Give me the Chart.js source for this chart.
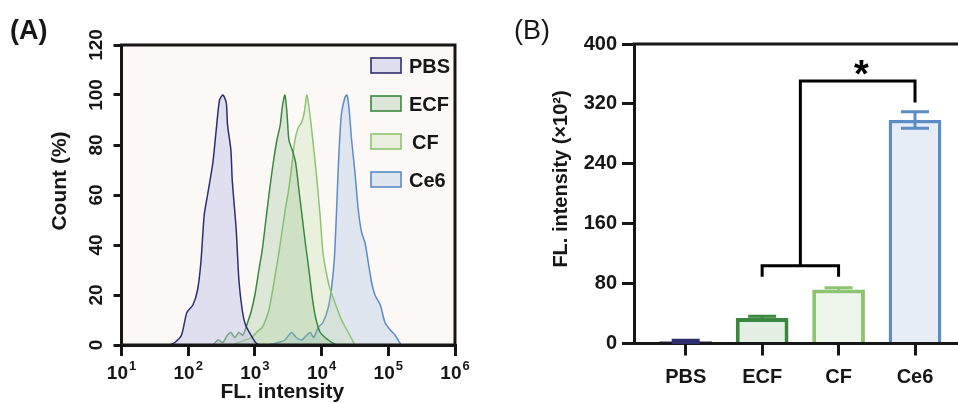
<!DOCTYPE html>
<html>
<head>
<meta charset="utf-8">
<title>FL intensity</title>
<script src="https://cdn.jsdelivr.net/npm/chart.js@4.4.1/dist/chart.umd.min.js"></script>
<style>
  body { margin: 0; background: #fff; }
  #wrap { position: relative; width: 958px; height: 403px; overflow: hidden; }
  canvas { position: absolute; top: 0; }
  #histCanvas { left: 0; }
  #barCanvas { left: 480px; }
</style>
</head>
<body>
<div id="wrap">
  <canvas id="histCanvas" width="480" height="403"></canvas>
  <canvas id="barCanvas" width="478" height="403"></canvas>
</div>
<script>
// (A) flow cytometry histograms: x = log10(FL intensity), y = count (%)
const pbsLog   = [1.72, 1.80, 1.90, 1.98, 2.07, 2.14, 2.19, 2.24, 2.29, 2.37, 2.42, 2.47, 2.52, 2.57, 2.59, 2.64, 2.66, 2.72, 2.76, 2.81, 2.86, 2.94, 3.01, 3.06];
const pbsCount = [0, 1, 4, 13, 16, 22, 33, 52, 60, 73, 86, 98, 100, 97, 88, 78, 66, 46, 26, 14, 8, 4, 1, 0];

const ecfLog   = [2.37, 2.45, 2.52, 2.59, 2.64, 2.70, 2.76, 2.82, 2.89, 2.94, 3.00, 3.06, 3.11, 3.16, 3.21, 3.27, 3.33, 3.38, 3.41, 3.45, 3.48, 3.51, 3.56, 3.61, 3.66, 3.71, 3.76, 3.81, 3.86, 3.91, 3.98, 4.10, 4.22];
const ecfCount = [0, 2, 1, 4, 5, 3, 5, 4, 9, 13, 20, 30, 38, 49, 60, 72, 82, 88, 95, 100, 93, 82, 78, 73, 62, 51, 40, 30, 19, 11, 5, 2, 0];

const cfLog    = [2.66, 2.75, 2.85, 2.95, 3.06, 3.11, 3.16, 3.21, 3.26, 3.31, 3.36, 3.41, 3.46, 3.50, 3.55, 3.60, 3.65, 3.70, 3.74, 3.78, 3.83, 3.88, 3.93, 3.98, 4.02, 4.07, 4.12, 4.20, 4.30, 4.40, 4.50];
const cfCount  = [0, 1, 2, 3, 6, 7, 10, 14, 21, 29, 37, 46, 55, 61, 71, 82, 87, 89, 93, 100, 91, 79, 66, 51, 37, 29, 23, 17, 10, 5, 0];

const ce6Log   = [3.20, 3.35, 3.45, 3.55, 3.62, 3.70, 3.78, 3.83, 3.88, 3.95, 4.02, 4.10, 4.15, 4.19, 4.22, 4.25, 4.27, 4.30, 4.35, 4.38, 4.41, 4.45, 4.50, 4.55, 4.60, 4.65, 4.70, 4.75, 4.80, 4.88, 4.95, 5.03, 5.10, 5.17, 5.19];
const ce6Count = [0, 1, 2, 5, 3, 2, 4, 5, 3, 7, 9, 15, 23, 34, 51, 71, 82, 93, 99, 100, 95, 82, 69, 54, 45, 41, 33, 25, 20, 16, 9, 6, 4, 1, 0];

const countTicks  = [0, 20, 40, 60, 80, 100, 120];
const decadeTicks = [1, 2, 3, 4, 5, 6];

// (B) mean FL intensity (x10^2) with SD
const groups = ['PBS', 'ECF', 'CF', 'Ce6'];
const meanFL = [3, 34, 72, 298.5];
const sdFL   = [1.5, 2.5, 2.5, 11];

const FONT = '"Liberation Sans", Arial, Helvetica, sans-serif';
const INK = '#161616';
const lineColors = ['#2e2d6e', '#3a873e', '#8dc472', '#5b8cc6'];
const fillColors = ['rgba(190,194,230,0.45)', 'rgba(110,175,110,0.22)', 'rgba(175,215,150,0.25)', 'rgba(160,190,225,0.30)'];
const barFill    = ['#2e3275', '#e2efe2', '#eef5ea', '#e7edf7'];

const toPoints = (xs, ys) => xs.map((v, i) => ({ x: v, y: ys[i] }));

const histSeries = [
  { label: 'PBS', xs: pbsLog, ys: pbsCount },
  { label: 'ECF', xs: ecfLog, ys: ecfCount },
  { label: 'CF',  xs: cfLog,  ys: cfCount },
  { label: 'Ce6', xs: ce6Log, ys: ce6Count }
];

const axisLine = (tickLength) => ({
  offset: false,
  grid: { offset: false, drawOnChartArea: false, drawTicks: true, tickLength: tickLength, lineWidth: 3, color: INK },
  border: { display: true, width: 3, color: INK }
});

// frame, 10^n labels, rotated count labels, legend and titles for panel A
const histDecor = {
  id: 'histDecor',
  beforeDraw(chart) {
    const { ctx, chartArea: a } = chart;
    ctx.save();
    ctx.fillStyle = '#fcf8f6';
    ctx.fillRect(a.left, a.top, a.right - a.left, a.bottom - a.top);
    ctx.restore();
  },
  afterDraw(chart) {
    const { ctx, chartArea: a, scales: { x, y } } = chart;
    ctx.save();
    ctx.strokeStyle = INK;
    ctx.lineWidth = 3;
    ctx.strokeRect(a.left, a.top, a.right - a.left, a.bottom - a.top);

    ctx.fillStyle = INK;
    // x tick labels 10^n
    decadeTicks.forEach(n => {
      const px = x.getPixelForValue(n);
      ctx.font = 'bold 19px ' + FONT;
      const w1 = ctx.measureText('10').width;
      ctx.font = 'bold 13px ' + FONT;
      const w2 = ctx.measureText(String(n)).width;
      const x0 = px - (w1 + w2 + 1) / 2;
      ctx.textAlign = 'left';
      ctx.textBaseline = 'alphabetic';
      ctx.font = 'bold 19px ' + FONT;
      ctx.fillText('10', x0, 379);
      ctx.font = 'bold 13px ' + FONT;
      ctx.fillText(String(n), x0 + w1 + 1, 370);
    });

    // y tick labels, rotated
    ctx.font = 'bold 19px ' + FONT;
    ctx.textAlign = 'center';
    ctx.textBaseline = 'alphabetic';
    countTicks.forEach(v => {
      const py = y.getPixelForValue(v);
      ctx.save();
      ctx.translate(102, py);
      ctx.rotate(-Math.PI / 2);
      ctx.fillText(String(v), 0, 0);
      ctx.restore();
    });

    // axis titles
    ctx.font = 'bold 21px ' + FONT;
    ctx.textAlign = 'center';
    ctx.fillText('FL. intensity', (a.left + a.right) / 2 - 6, 398);
    ctx.save();
    ctx.translate(60, 181);
    ctx.rotate(-Math.PI / 2);
    ctx.textBaseline = 'middle';
    ctx.fillText('Count (%)', 0, 0);
    ctx.restore();

    // legend
    chart.data.datasets.forEach((ds, i) => {
      const bx = a.right - 84, by = a.top + 13 + i * 38;
      ctx.fillStyle = ds.backgroundColor;
      ctx.fillRect(bx, by, 30, 15);
      ctx.strokeStyle = ds.borderColor;
      ctx.lineWidth = 1.6;
      ctx.strokeRect(bx, by, 30, 15);
      ctx.fillStyle = INK;
      ctx.font = 'bold 20px ' + FONT;
      ctx.textAlign = 'left';
      ctx.textBaseline = 'alphabetic';
      ctx.fillText(ds.label, bx + 38 + (ds.label === 'CF' ? 3 : 0), by + 15);
    });

    // panel tag
    ctx.font = 'bold 27px ' + FONT;
    ctx.fillText('(A)', 10, 39);
    ctx.restore();
  }
};

new Chart(document.getElementById('histCanvas'), {
  type: 'line',
  data: {
    datasets: histSeries.map((s, i) => ({
      label: s.label,
      data: toPoints(s.xs, s.ys),
      borderColor: lineColors[i],
      backgroundColor: fillColors[i],
      borderWidth: 1.5,
      fill: 'origin',
      pointRadius: 0,
      tension: 0.25
    }))
  },
  options: {
    responsive: false,
    animation: false,
    devicePixelRatio: 1,
    layout: { padding: { top: 45, right: 25, left: 0, bottom: 0 } },
    plugins: { legend: { display: false }, tooltip: { enabled: false } },
    scales: {
      x: Object.assign({
        type: 'linear', min: 1, max: 6,
        afterFit: s => { s.height = 58; },
        afterBuildTicks: s => { s.ticks = decadeTicks.map(v => ({ value: v })); },
        ticks: { display: false }
      }, axisLine(11)),
      y: Object.assign({
        min: 0, max: 120,
        afterFit: s => { s.width = 121.5; },
        afterBuildTicks: s => { s.ticks = countTicks.map(v => ({ value: v })); },
        ticks: { display: false }
      }, axisLine(8))
    }
  },
  plugins: [histDecor]
});

// error bars, significance brackets and titles for panel B
const barDecor = {
  id: 'barDecor',
  afterDatasetsDraw(chart) {
    const { ctx, chartArea: a, scales: { x, y } } = chart;
    const bars = chart.getDatasetMeta(0).data;
    ctx.save();
    ctx.lineWidth = 3;
    bars.forEach((bar, i) => {
      const hi = y.getPixelForValue(meanFL[i] + sdFL[i]);
      const lo = y.getPixelForValue(meanFL[i] - sdFL[i]);
      ctx.strokeStyle = lineColors[i];
      ctx.beginPath();
      ctx.moveTo(bar.x, hi); ctx.lineTo(bar.x, lo);
      ctx.moveTo(bar.x - 14, hi); ctx.lineTo(bar.x + 14, hi);
      ctx.moveTo(bar.x - 14, lo); ctx.lineTo(bar.x + 14, lo);
      ctx.stroke();
    });

    // top frame line
    ctx.strokeStyle = INK;
    ctx.beginPath();
    ctx.moveTo(a.left - 1.5, a.top);
    ctx.lineTo(a.right, a.top);
    ctx.stroke();

    // ECF vs CF joined, then against Ce6
    const X = v => x.getPixelForValue(v), Y = v => y.getPixelForValue(v);
    ctx.strokeStyle = '#000';
    ctx.lineJoin = 'miter';
    ctx.beginPath();
    ctx.moveTo(X(2), Y(89)); ctx.lineTo(X(2), Y(104)); ctx.lineTo(X(3), Y(104)); ctx.lineTo(X(3), Y(89));
    ctx.moveTo(X(2.5), Y(104)); ctx.lineTo(X(2.5), Y(350.5)); ctx.lineTo(X(4), Y(350.5)); ctx.lineTo(X(4), Y(322));
    ctx.stroke();

    ctx.fillStyle = '#000';
    ctx.font = 'bold 38px ' + FONT;
    ctx.textAlign = 'center';
    ctx.textBaseline = 'alphabetic';
    ctx.fillText('*', X(3.3), Y(350.5) + 6);
    ctx.restore();
  },
  afterDraw(chart) {
    const { ctx } = chart;
    ctx.save();
    ctx.fillStyle = INK;
    ctx.font = 'bold 20px ' + FONT;
    ctx.textAlign = 'center';
    ctx.textBaseline = 'middle';
    ctx.translate(81.7, 179);
    ctx.rotate(-Math.PI / 2);
    ctx.fillText('FL. intensity (×10²)', 0, 0);
    ctx.restore();

    ctx.save();
    ctx.fillStyle = INK;
    ctx.font = '27px ' + FONT;
    ctx.textAlign = 'left';
    ctx.textBaseline = 'alphabetic';
    ctx.fillText('(B)', 34, 38.5);
    ctx.restore();
  }
};

const tickFont = { family: FONT, size: 20, weight: 'bold' };

new Chart(document.getElementById('barCanvas'), {
  type: 'bar',
  data: {
    datasets: [{
      data: meanFL.map((v, i) => ({ x: i + 1, y: v })),
      backgroundColor: barFill,
      borderColor: lineColors,
      borderWidth: [3, 4, 4, 3.5],
      borderSkipped: 'start',
      barPercentage: 0.69,
      categoryPercentage: 1
    }]
  },
  options: {
    responsive: false,
    animation: false,
    devicePixelRatio: 1,
    layout: { padding: { top: 44, right: 0, left: 0, bottom: 0 } },
    plugins: { legend: { display: false }, tooltip: { enabled: false } },
    scales: {
      x: Object.assign({
        type: 'linear', min: 0.3235, max: 4.5625,
        afterFit: s => { s.height = 59.5; },
        afterBuildTicks: s => { s.ticks = groups.map((g, i) => ({ value: i + 1 })); },
        ticks: { callback: v => groups[v - 1], font: tickFont, color: INK, padding: 10, maxRotation: 0, autoSkip: false }
      }, axisLine(12)),
      y: Object.assign({
        min: 0, max: 400,
        afterFit: s => { s.width = 154; },
        ticks: { stepSize: 80, font: tickFont, color: INK, padding: 5 }
      }, axisLine(12))
    }
  },
  plugins: [barDecor]
});
</script>
</body>
</html>
